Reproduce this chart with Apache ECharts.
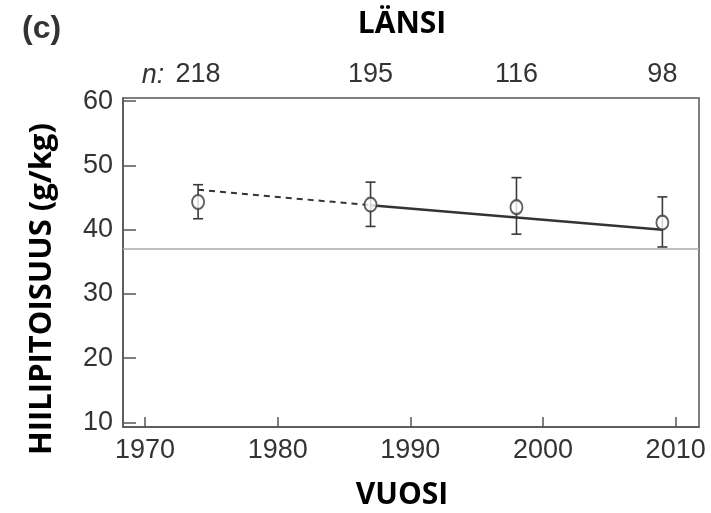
<!DOCTYPE html>
<html>
<head>
    <meta charset="utf-8">
    <title>LÄNSI</title>
    <script src="https://cdn.jsdelivr.net/npm/echarts@6/dist/echarts.min.js"></script>
</head>
<body style="margin:0;background:#fff;">
<div id="main" style="width:711px;height:513px;"></div>
<script type="text/javascript">
    // data
    var years = [1974, 1987, 1998, 2009];
    var means = [44.3, 43.9, 43.5, 41.1];
    var errLow = [41.7, 40.5, 39.3, 37.3];
    var errHigh = [47.0, 47.4, 48.1, 45.1];
    var nCounts = ['218', '195', '116', '98'];
    var trendDashed = [[1974, 46.2], [1987, 43.8]];
    var trendSolid = [[1987, 43.8], [2009, 40.0]];
    var refLevel = 37.0;
    var xTicks = [1970, 1980, 1990, 2000, 2010];
    var yTicks = [10, 20, 30, 40, 50, 60];

    var ink = '#3a3a3a';
    var pts = years.map(function (y, i) { return [y, means[i]]; });
    var bars = years.map(function (y, i) { return [y, errLow[i], errHigh[i]]; });

    var myChart = echarts.init(document.getElementById('main'));
    myChart.setOption({
        animation: false,
        title: [
            {text: 'LÄNSI', left: 397, top: 4, textAlign: 'center',
             textStyle: {fontFamily: 'Open Sans', fontWeight: 'bold', fontSize: 30, color: '#000'}},
            {text: 'VUOSI', left: 397, top: 475, textAlign: 'center',
             textStyle: {fontFamily: 'Open Sans', fontWeight: 'bold', fontSize: 30, color: '#000'}},
            {text: '(c)', left: 17, top: 8,
             textStyle: {fontFamily: 'Liberation Sans', fontWeight: 'bold', fontSize: 32, color: '#333'}}
        ],
        graphic: [
            {type: 'text', x: 42, y: 289, rotation: Math.PI / 2,
             style: {text: 'HIILIPITOISUUS (g/kg)', fill: '#000', align: 'center', verticalAlign: 'middle',
                     font: 'bold 31px "Open Sans"'}},
            {type: 'text', x: 153, y: 75,
             style: {text: 'n:', fill: '#333', align: 'center', verticalAlign: 'middle',
                     font: 'italic 27px "Liberation Sans"'}}
        ],
        grid: {
            left: 123, right: 12, top: 98, bottom: 86,
            show: true, borderColor: '#555', borderWidth: 1.5
        },
        xAxis: [{
            type: 'value', min: 1968.34, max: 2011.76,
            axisLine: {show: true, lineStyle: {color: '#555', width: 1.5}},
            axisTick: {show: true, inside: true, length: 10, customValues: xTicks,
                       lineStyle: {color: '#555', width: 1.5}},
            axisLabel: {customValues: xTicks, fontFamily: 'Liberation Sans', fontSize: 27,
                        color: '#333', margin: 10,
                        formatter: function (v) { return String(v); }},
            splitLine: {show: false}
        }, {
            type: 'value', position: 'top', min: 1968.34, max: 2011.76,
            axisLine: {show: false},
            axisTick: {show: false},
            axisLabel: {customValues: years, fontFamily: 'Liberation Sans', fontSize: 27,
                        color: '#333', margin: 10,
                        formatter: function (v) { return nCounts[years.indexOf(v)]; }},
            splitLine: {show: false}
        }],
        yAxis: {
            type: 'value', min: 9.27, max: 60.5,
            axisLine: {show: true, lineStyle: {color: '#555', width: 1.5}},
            axisTick: {show: true, inside: true, length: 13, customValues: yTicks,
                       lineStyle: {color: '#555', width: 1.5}},
            axisLabel: {customValues: yTicks, fontFamily: 'Liberation Sans', fontSize: 27,
                        color: '#333', margin: 10},
            splitLine: {show: false}
        },
        series: [
            {
                type: 'line', data: trendDashed, symbol: 'none',
                lineStyle: {color: '#333', width: 2, type: [6, 5]},
                markLine: {
                    silent: true, symbol: 'none', label: {show: false},
                    lineStyle: {color: '#aaa', width: 1.5, type: 'solid'},
                    data: [{yAxis: refLevel}]
                }
            },
            {
                type: 'line', data: trendSolid, symbol: 'none',
                lineStyle: {color: '#333', width: 2.5}
            },
            {
                type: 'custom', data: bars,
                renderItem: function (params, api) {
                    var lo = api.coord([api.value(0), api.value(1)]);
                    var hi = api.coord([api.value(0), api.value(2)]);
                    var w = 5;
                    var st = {stroke: ink, lineWidth: 1.6};
                    return {
                        type: 'group',
                        children: [
                            {type: 'line', shape: {x1: lo[0], y1: lo[1], x2: hi[0], y2: hi[1]}, style: st},
                            {type: 'line', shape: {x1: lo[0] - w, y1: lo[1], x2: lo[0] + w, y2: lo[1]}, style: st},
                            {type: 'line', shape: {x1: hi[0] - w, y1: hi[1], x2: hi[0] + w, y2: hi[1]}, style: st}
                        ]
                    };
                },
                z: 3
            },
            {
                type: 'scatter', data: pts, symbol: 'emptyCircle', symbolSize: [12, 14],
                itemStyle: {color: ink, borderColor: ink, borderWidth: 1.4},
                z: 4
            }
        ]
    });
</script>
</body>
</html>
